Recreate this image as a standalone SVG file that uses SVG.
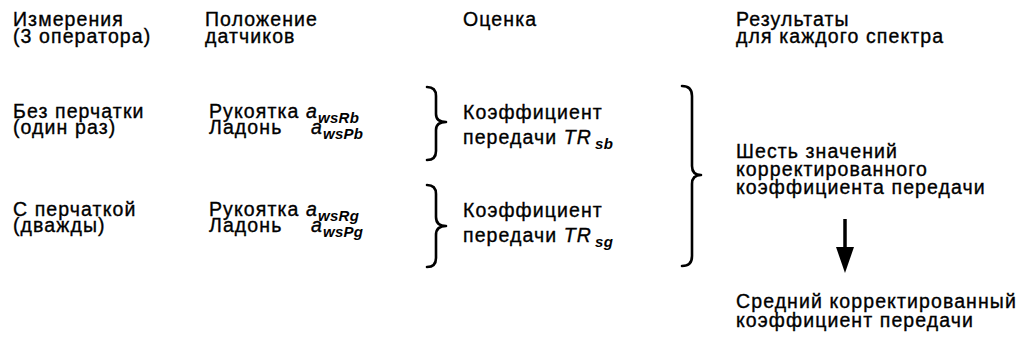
<svg xmlns="http://www.w3.org/2000/svg" width="1033" height="356" viewBox="0 0 1033 356">
<style>
text{font-family:"Liberation Sans",Arial,sans-serif;font-size:19.5px;fill:#000;stroke:#000;stroke-width:0.35;letter-spacing:1.1px}
.i{font-style:italic}
.s{font-size:15px;font-style:italic;font-weight:bold;letter-spacing:0.3px;stroke-width:0}
.br{fill:none;stroke:#000;stroke-width:2.6;stroke-linecap:round;stroke-linejoin:round}
</style>
<defs>
<marker id="ah" markerWidth="26" markerHeight="18" refX="1" refY="9" orient="auto" markerUnits="userSpaceOnUse" viewBox="0 0 26 18"><path d="M0,0 L26,9 L0,18 Z" fill="#000"/></marker>
</defs>
<g id="h1"><text x="13" y="26">Измерения</text><text x="13" y="43">(3 оператора)</text></g>
<g id="h2"><text x="205" y="26">Положение</text><text x="205" y="43">датчиков</text></g>
<g id="h3"><text x="463" y="26">Оценка</text></g>
<g id="h4"><text x="736" y="26">Результаты</text><text x="736" y="43">для каждого спектра</text></g>
<g id="r1c1"><text x="13" y="118">Без перчатки</text><text x="13" y="134">(один раз)</text></g>
<g id="r1c2"><text x="209" y="118">Рукоятка <tspan class="i">a</tspan><tspan class="s" dy="5">wsRb</tspan></text>
<text x="209" y="134">Ладонь <tspan class="i" x="311">a</tspan><tspan class="s" dy="5">wsPb</tspan></text></g>
<g id="r1c3"><text x="463" y="119">Коэффициент</text><text x="463" y="144">передачи <tspan class="i">TR</tspan><tspan class="s" dx="3" dy="5">sb</tspan></text></g>
<g id="r2c1"><text x="13" y="216">С перчаткой</text><text x="13" y="232">(дважды)</text></g>
<g id="r2c2"><text x="209" y="216">Рукоятка <tspan class="i">a</tspan><tspan class="s" dy="5">wsRg</tspan></text>
<text x="209" y="232">Ладонь <tspan class="i" x="311">a</tspan><tspan class="s" dy="5">wsPg</tspan></text></g>
<g id="r2c3"><text x="463" y="217">Коэффициент</text><text x="463" y="242">передачи <tspan class="i">TR</tspan><tspan class="s" dx="3" dy="5">sg</tspan></text></g>
<g id="res"><text x="736" y="158">Шесть значений</text><text x="736" y="176">корректированного</text><text x="736" y="194">коэффициента передачи</text></g>
<g id="mean"><text x="736" y="308">Средний корректированный</text><text x="736" y="327">коэффициент передачи</text></g>
<g id="connectors">
<path class="br" d="M427,87 Q436,87 436,96 L436,114 Q436,122 446,122 Q436,122 436,130 L436,151 Q436,160 427,160"/>
<path class="br" d="M427,185 Q436,185 436,194 L436,217 Q436,226 446,226 Q436,226 436,235 L436,258 Q436,267 427,267"/>
<path class="br" d="M682,86 Q692,86 692,96 L692,166 Q692,175 701,175 Q692,175 692,184 L692,256 Q692,266 682,266"/>
<line x1="845" y1="219" x2="845" y2="248" stroke="#000" stroke-width="3.5" marker-end="url(#ah)"/>
</g>
</svg>
